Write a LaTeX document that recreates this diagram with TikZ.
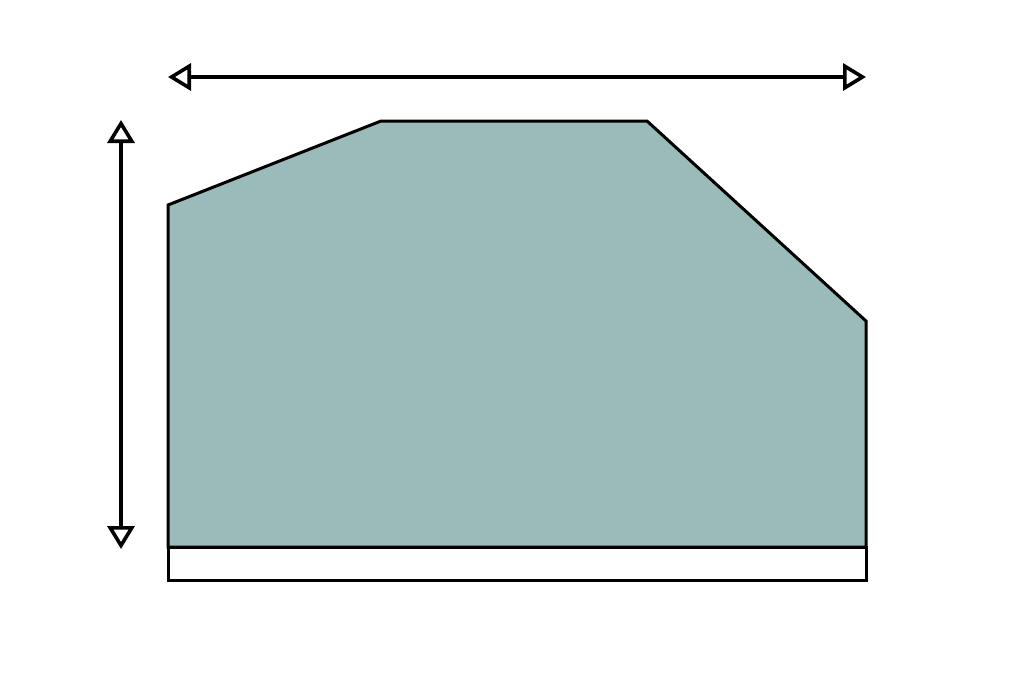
\documentclass[tikz,border=0pt]{standalone}
\usepackage{xcolor}
\usepackage{tikz}
\usetikzlibrary{arrows.meta}
\definecolor{sage}{RGB}{155,187,186}
\tikzset{
	outline/.style={line width=3pt, line join=miter, black}, % borders of the shape
	dimension/.style={line width=4pt, {Triangle[open, length=23pt, width=27pt, line width=3.6pt]}-{Triangle[open, length=23pt, width=27pt, line width=3.6pt]}}, % double arrows
}
\begin{document}
\begin{tikzpicture}[x=1pt, y=-1pt]
				\useasboundingbox (0,0) rectangle (1024,683);
				% Corners of the shape
				\coordinate (a) at (168,205);
				\coordinate (b) at (381,121);
				\coordinate (c) at (647,121);
				\coordinate (d) at (866,321);
				\coordinate (e) at (866,547);
				\coordinate (f) at (168,547);
				\coordinate (g) at (866,580);
				\coordinate (h) at (168,580);
				
				% Ends of the arrows
				\coordinate (wl) at (168,77);
				\coordinate (wr) at (866,77);
				\coordinate (ht) at (121,120);
				\coordinate (hb) at (121,549);
				
				% Shape
				\draw[outline, fill=sage] (a) -- (b) -- (c) -- (d) -- (e) -- (f) -- cycle;
				\draw[outline, fill=white] (f) -- (e) -- (g) -- (h) -- cycle;
				
				% Dimensions
				\draw[dimension] (wl) -- (wr);
				\draw[dimension] (ht) -- (hb);
			\end{tikzpicture}
\end{document}
